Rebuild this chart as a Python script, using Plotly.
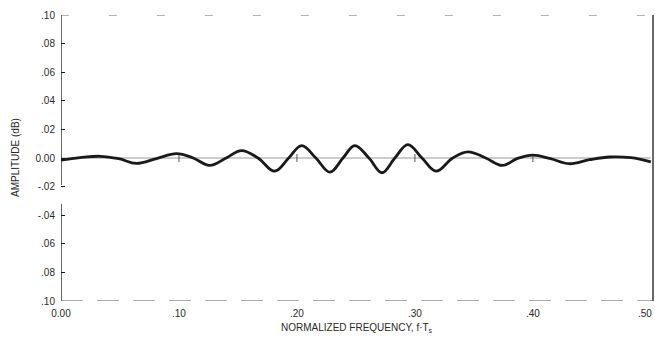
import plotly.graph_objects as go

# Data (normalized frequency vs amplitude ripple in dB)
freq = [0.000, 0.016, 0.033, 0.049, 0.064, 0.081, 0.098, 0.112, 0.126, 0.140,
        0.153, 0.167, 0.181, 0.193, 0.204, 0.216, 0.228, 0.239, 0.249, 0.261,
        0.272, 0.283, 0.294, 0.306, 0.318, 0.332, 0.345, 0.360, 0.374, 0.387,
        0.400, 0.415, 0.431, 0.448, 0.465, 0.483, 0.500]
ampl = [-0.0015, 0.0002, 0.0012, -0.0005, -0.0038, -0.0004, 0.0031, 0.0, -0.0052, 0.0,
        0.0052, 0.0, -0.0092, 0.0, 0.0087, 0.0, -0.0099, 0.0, 0.0087, 0.0,
        -0.0103, 0.0, 0.0094, 0.0, -0.0092, 0.0, 0.0043, 0.0, -0.0052, -0.0003,
        0.0020, -0.0005, -0.0040, -0.0012, 0.0007, 0.0002, -0.0027]

x_ticks = [0.0, 0.1, 0.2, 0.3, 0.4]
x_tick_labels = ["0.00", ".10", ".20", ".30", ".40"]
x_last_label = ".50"
y_ticks = [0.10, 0.08, 0.06, 0.04, 0.02, 0.0, -0.02, -0.04, -0.06, -0.08, -0.10]
y_tick_labels = [".10", ".08", ".06", ".04", ".02", "0.00", "-.02", "-.04", ".06", ".08", ".10"]
zero_marks = [0.1, 0.2, 0.3, 0.4]

ink = "#1a1a1a"
font = dict(family="Liberation Sans, Arial, sans-serif", size=10, color="#2a2a2a")
x_max = 0.5018

fig = go.Figure()

# zero reference line
fig.add_trace(go.Scatter(x=[0.0, 0.5], y=[0.0, 0.0], mode="lines",
                         line=dict(color="#9a9a9a", width=1), hoverinfo="skip",
                         showlegend=False))
# small vertical marks on the zero line
for xm in zero_marks:
    fig.add_trace(go.Scatter(x=[xm, xm], y=[-0.0028, 0.0028], mode="lines",
                             line=dict(color="#555555", width=1), hoverinfo="skip",
                             showlegend=False))

# ripple curve
fig.add_trace(go.Scatter(x=freq, y=ampl, mode="lines",
                         line=dict(color=ink, width=2.8, shape="spline", smoothing=1.1),
                         showlegend=False))

shapes = [
    # left axis, broken between -.02 and -.04
    dict(type="line", xref="x", yref="y", x0=0, x1=0, y0=0.10, y1=-0.019,
         line=dict(color=ink, width=1.3)),
    dict(type="line", xref="x", yref="y", x0=0, x1=0, y0=-0.032, y1=-0.10,
         line=dict(color=ink, width=1.3)),
    # right axis
    dict(type="line", xref="paper", yref="y", x0=1, x1=1, y0=0.10, y1=-0.10,
         line=dict(color=ink, width=1.3)),
    # top border (faded scan)
    dict(type="line", xref="x", yref="y", x0=0, x1=x_max, y0=0.10, y1=0.10,
         line=dict(color="#666666", width=1, dash="8px,40px")),
    # bottom border (faded scan)
    dict(type="line", xref="x", yref="y", x0=0, x1=x_max, y0=-0.10, y1=-0.10,
         line=dict(color="#555555", width=1, dash="22px,14px")),
]

fig.update_layout(
    width=655, height=343,
    margin=dict(l=61, r=2, t=15, b=42),
    paper_bgcolor="white", plot_bgcolor="white",
    font=font,
    shapes=shapes,
    xaxis=dict(range=[0, x_max], tickvals=x_ticks, ticktext=x_tick_labels,
               showgrid=False, zeroline=False, showline=False, ticks="",
               ticklabelstandoff=5, automargin=False,
               tickfont=font, fixedrange=True),
    yaxis=dict(range=[-0.10, 0.10], tickvals=y_ticks, ticktext=y_tick_labels,
               showgrid=False, zeroline=False, showline=False,
               ticks="inside", ticklen=4, tickcolor=ink, tickwidth=1,
               ticklabelstandoff=5, tickfont=font, fixedrange=True),
    annotations=[
        dict(text=x_last_label, xref="paper", yref="paper",
             x=1, y=0, yshift=-12, xshift=1, xanchor="right", yanchor="middle",
             showarrow=False, font=font),
        dict(text="NORMALIZED FREQUENCY, f·T<sub>s</sub>", xref="paper", yref="paper",
             x=0.5, y=0, yshift=-27, xanchor="center", yanchor="middle",
             showarrow=False, font=font),
        dict(text="AMPLITUDE (dB)", xref="paper", yref="paper",
             x=0, y=0.5, xshift=-46, xanchor="center", yanchor="middle",
             textangle=-90, showarrow=False, font=font),
    ],
)

fig.write_html("out.html")
